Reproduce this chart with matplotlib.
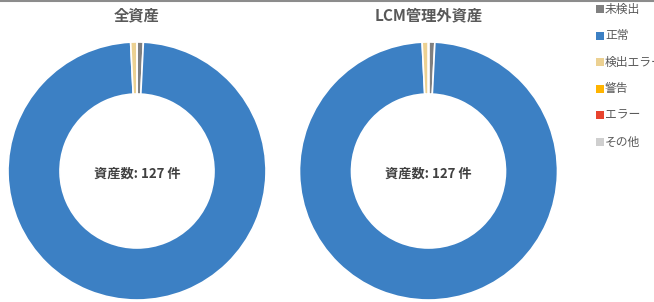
import matplotlib.pyplot as plt
from matplotlib.lines import Line2D

plt.rcParams['font.family'] = ['Noto Sans CJK JP', 'DejaVu Sans']

categories = ['未検出', '正常', '検出エラー', '警告', 'エラー', 'その他']
colors = ['#808080', '#3c80c4', '#ecd192', '#ffb400', '#e8432e', '#cfcfcf']
all_assets = [1, 125, 1, 0, 0, 0]
lcm_outside = [1, 125, 1, 0, 0, 0]
titles = ['全資産', 'LCM管理外資産']
totals = [127, 127]

W, H = 654, 302
fig = plt.figure(figsize=(W / 100, H / 100), dpi=100)
ax = fig.add_axes([0, 0, 1, 1])

# pixel coordinates, y measured from the top
centers = [(137, 171), (428.5, 171)]
r_out, r_in = 129, 77

for vals, title, total, (cx, cy) in zip([all_assets, lcm_outside], titles, totals, centers):
  ax.pie(vals, colors=colors, startangle=90, counterclock=False,
         center=(cx, H - cy), radius=r_out,
         wedgeprops=dict(width=r_out - r_in, edgecolor='white', linewidth=1.2))
  ax.text(cx, H - 15, title, ha='center', va='center', fontsize=11,
          fontweight='bold', color='#595959')
  ax.text(cx, H - 174, '資産数: %d 件' % total, ha='center', va='center',
          fontsize=9.5, fontweight='bold', color='#404040')

# legend
for i, (lab, col) in enumerate(zip(categories, colors)):
  y = H - (9 + i * 26.6)
  ax.scatter([600], [y], marker='s', s=30, color=col, linewidths=0)
  ax.text(605, y, lab, ha='left', va='center', fontsize=8.5, color='#595959')

ax.set_xlim(0, W)
ax.set_ylim(0, H)
ax.set_aspect('auto')
ax.axis('off')

fig.add_artist(Line2D([0, 1], [1 - 0.5 / H, 1 - 0.5 / H], transform=fig.transFigure,
                      color='#8c8c8c', linewidth=1.5))

plt.savefig('out.png', dpi=100)
